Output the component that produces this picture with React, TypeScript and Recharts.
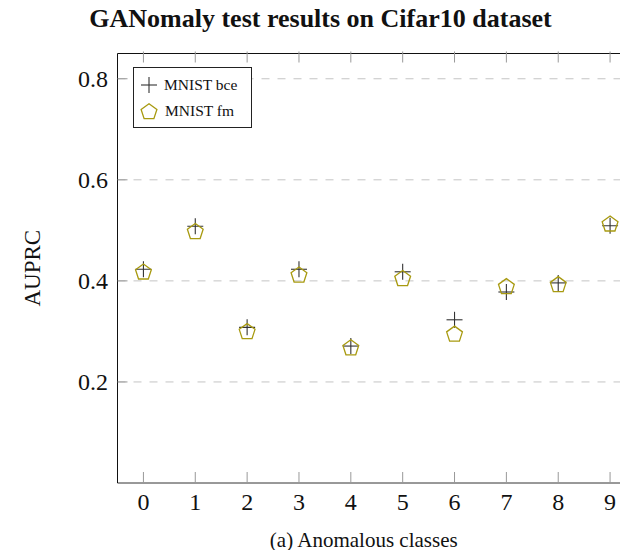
import React from 'react';
import {
  ScatterChart,
  Scatter,
  XAxis,
  YAxis,
  CartesianGrid,
  Legend,
} from 'recharts';

const classes = [0, 1, 2, 3, 4, 5, 6, 7, 8, 9];
const bceValues = [0.423, 0.508, 0.308, 0.423, 0.271, 0.418, 0.323, 0.378, 0.396, 0.509];
const fmValues = [0.419, 0.499, 0.301, 0.413, 0.269, 0.406, 0.296, 0.39, 0.394, 0.514];
const yTicks = [0.2, 0.4, 0.6, 0.8];

const bceData = classes.map((c, i) => ({ x: c, y: bceValues[i] }));
const fmData = classes.map((c, i) => ({ x: c, y: fmValues[i] }));

const SERIF = '"Liberation Serif", "DejaVu Serif", serif';
const OLIVE = '#a89a10';
const CROSS = '#333333';

const pentagonPoints = (cx: number, cy: number, r: number) =>
  [0, 1, 2, 3, 4]
    .map((k) => {
      const a = (-90 + k * 72) * (Math.PI / 180);
      return `${cx + r * Math.cos(a)},${cy + r * Math.sin(a)}`;
    })
    .join(' ');

const CrossShape = (props: any) => {
  const { cx, cy } = props;
  return (
    <g>
      <line x1={cx - 8} x2={cx + 8} y1={cy} y2={cy} stroke={CROSS} strokeWidth={1.1} />
      <line x1={cx} x2={cx} y1={cy - 8} y2={cy + 8} stroke={CROSS} strokeWidth={1.1} />
    </g>
  );
};

const PentagonShape = (props: any) => {
  const { cx, cy } = props;
  return <polygon points={pentagonPoints(cx, cy + 1, 8.3)} fill="none" stroke={OLIVE} strokeWidth={1.3} />;
};

const YTick = (props: any) => {
  const { x, y, payload } = props;
  return (
    <g>
      <line x1={x + 9.5} x2={x + 19.5} y1={y} y2={y} stroke="#999" strokeWidth={1} />
      <text x={x} y={y} dy={8} textAnchor="end" fontSize={24} fontFamily={SERIF} fill="#111">
        {payload.value.toFixed(1)}
      </text>
    </g>
  );
};

const XTick = (props: any) => {
  const { x, y, payload } = props;
  return (
    <g>
      <line x1={x} x2={x} y1={y - 10} y2={y - 21} stroke="#999" strokeWidth={1} />
      <text x={x} y={y} dy={17} textAnchor="middle" fontSize={24} fontFamily={SERIF} fill="#111">
        {payload.value}
      </text>
    </g>
  );
};

const TopTick = (props: any) => {
  const { x, y } = props;
  return <line x1={x} x2={x} y1={y} y2={y + 11} stroke="#999" strokeWidth={1} />;
};

const YLabel = (props: any) => {
  const { viewBox } = props;
  const x = viewBox.x + 25;
  const y = viewBox.y + viewBox.height / 2;
  return (
    <text
      x={x}
      y={y}
      transform={`rotate(-90, ${x}, ${y})`}
      textAnchor="middle"
      dominantBaseline="central"
      fontSize={23}
      fontFamily={SERIF}
      fill="#111"
    >
      AUPRC
    </text>
  );
};

const LegendBox = () => (
  <div
    style={{
      width: 117,
      height: 59,
      border: '1px solid #222',
      background: '#fff',
      fontFamily: SERIF,
      fontSize: 15.5,
      color: '#111',
      boxSizing: 'content-box',
    }}
  >
    <div style={{ display: 'flex', alignItems: 'center', height: 28, marginTop: 3 }}>
      <svg width={30} height={24}>
        <line x1={7} x2={23} y1={12} y2={12} stroke={CROSS} strokeWidth={1.1} />
        <line x1={15} x2={15} y1={4} y2={20} stroke={CROSS} strokeWidth={1.1} />
      </svg>
      <span>MNIST bce</span>
    </div>
    <div style={{ display: 'flex', alignItems: 'center', height: 24 }}>
      <svg width={31} height={24}>
        <polygon points={pentagonPoints(15, 13, 8.3)} fill="none" stroke={OLIVE} strokeWidth={1.3} />
      </svg>
      <span>MNIST fm</span>
    </div>
  </div>
);

export default function App() {
  return (
    <div style={{ position: 'relative', width: 628, height: 558, margin: -8, overflow: 'hidden', background: '#fff' }}>
      <div
        style={{
          position: 'absolute',
          left: 0,
          top: 4,
          width: 641,
          textAlign: 'center',
          fontFamily: SERIF,
          fontWeight: 'bold',
          fontSize: 26,
          color: '#111',
        }}
      >
        GANomaly test results on Cifar10 dataset
      </div>
      <ScatterChart
        width={636}
        height={558}
        margin={{ top: 52.5, right: 0, bottom: 35, left: 7.5 }}
        style={{ position: 'absolute', left: 0, top: 0 }}
      >
        <CartesianGrid
          horizontal
          vertical={false}
          stroke="#c4c4c4"
          strokeDasharray="8 8"
          horizontalValues={yTicks}
        />
        <XAxis
          type="number"
          dataKey="x"
          domain={[-0.5, 9.5]}
          ticks={classes}
          interval={0}
          height={40}
          tickSize={0}
          tickMargin={10}
          tick={<XTick />}
          axisLine={{ stroke: '#333', strokeWidth: 1 }}
          allowDataOverflow
          label={{
            value: '(a) Anomalous classes',
            position: 'bottom',
            offset: 9,
            dx: -13,
            fontSize: 21,
            fontFamily: SERIF,
            fill: '#111',
          }}
        />
        <XAxis
          xAxisId="top"
          orientation="top"
          type="number"
          dataKey="x"
          domain={[-0.5, 9.5]}
          ticks={classes}
          interval={0}
          height={1}
          tickSize={0}
          tick={<TopTick />}
          axisLine={{ stroke: '#111', strokeWidth: 1 }}
          allowDataOverflow
        />
        <YAxis
          type="number"
          dataKey="y"
          domain={[0, 0.85]}
          ticks={yTicks}
          interval={0}
          width={110}
          tickSize={0}
          tickMargin={9.5}
          tick={<YTick />}
          axisLine={{ stroke: '#111', strokeWidth: 1 }}
          allowDataOverflow
          label={<YLabel />}
        />
        <Legend
          layout="horizontal"
          verticalAlign="middle"
          align="center"
          content={() => <LegendBox />}
          wrapperStyle={{ left: 133, top: 67, width: 'auto' }}
        />
        <Scatter name="MNIST bce" data={bceData} shape={<CrossShape />} isAnimationActive={false} />
        <Scatter name="MNIST fm" data={fmData} shape={<PentagonShape />} isAnimationActive={false} />
      </ScatterChart>
    </div>
  );
}
